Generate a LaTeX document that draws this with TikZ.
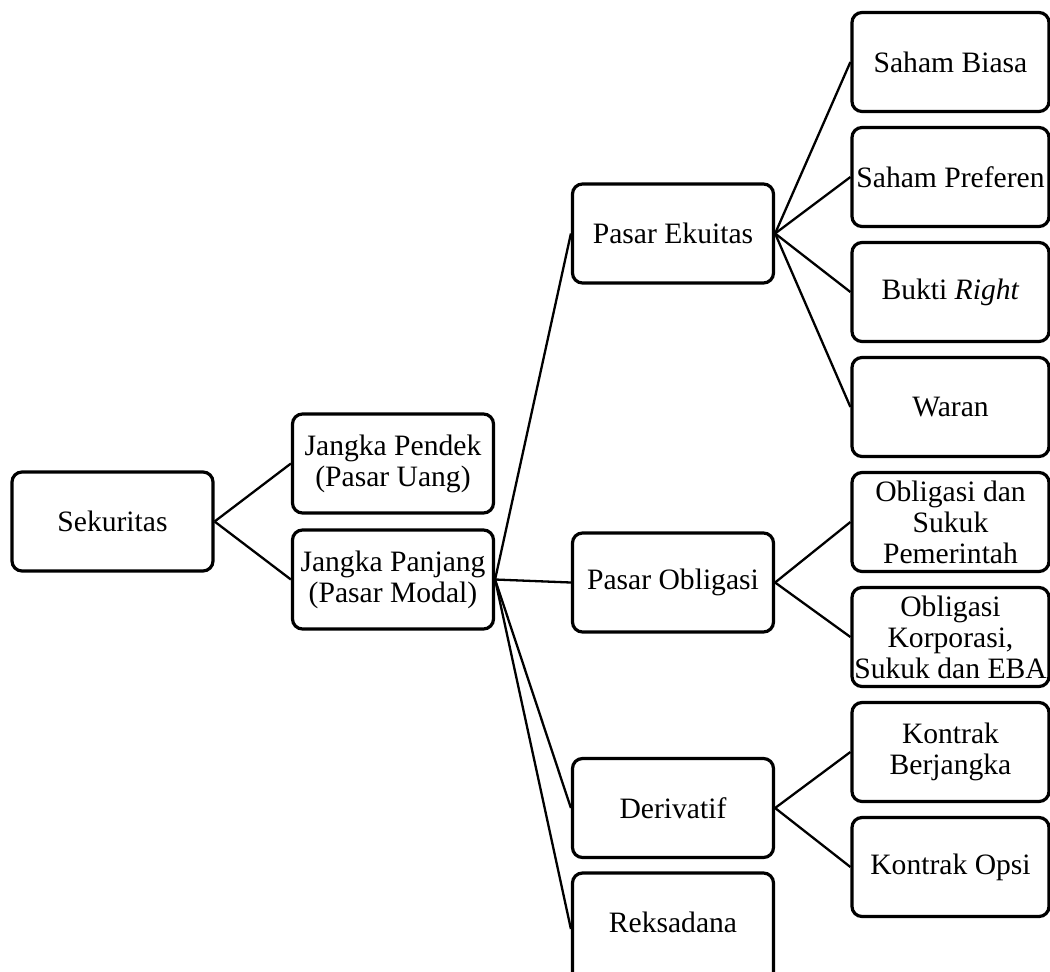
\documentclass[tikz,border=0pt]{standalone}
\usepackage{fontspec}
\setmainfont{Liberation Serif}
\usepackage{tikz}

\tikzset{
    kotak/.style={draw, line width=1.6pt, rounded corners=5pt, align=center,
        minimum width=100.5pt, minimum height=49.5pt, inner sep=1pt,
        font=\fontsize{14.8}{15.5}\selectfont},
    kotakkanan/.style={kotak, minimum width=98.5pt},
    garis/.style={line width=1.15pt},
}

\begin{document}
\begin{tikzpicture}[x=0.5pt, y=-0.5pt]
\useasboundingbox (0,0) rectangle (1050,971);
% kolom kiri
\node[kotak] (sek) at (112.5,521.5) {Sekuritas};
\node[kotak] (pendek) at (393,463.5) {Jangka Pendek\\(Pasar Uang)};
\node[kotak] (panjang) at (393,579.5) {Jangka Panjang\\(Pasar Modal)};
% kolom tengah
\node[kotak] (ekuitas) at (673,233.5) {Pasar Ekuitas};
\node[kotak] (obligasi) at (673,582.5) {Pasar Obligasi};
\node[kotak] (derivatif) at (673,808) {Derivatif};
\node[kotak, minimum height=56pt, text depth=7pt] (reksadana) at (673,929) {Reksadana};
% kolom kanan
\node[kotakkanan] (biasa) at (950.5,62) {Saham Biasa};
\node[kotakkanan] (preferen) at (950.5,177) {Saham Preferen};
\node[kotakkanan] (right) at (950.5,292) {Bukti \textit{Right}};
\node[kotakkanan] (waran) at (950.5,407) {Waran};
\node[kotakkanan] (pemerintah) at (950.5,522) {Obligasi dan\\Sukuk\\Pemerintah};
\node[kotakkanan] (korporasi) at (950.5,637) {Obligasi\\Korporasi,\\Sukuk dan EBA};
\node[kotakkanan] (berjangka) at (950.5,752) {Kontrak\\Berjangka};
\node[kotakkanan] (opsi) at (950.5,867) {Kontrak Opsi};

\foreach \a/\b in {sek/pendek, sek/panjang,
    panjang/ekuitas, panjang/obligasi, panjang/derivatif, panjang/reksadana,
    ekuitas/biasa, ekuitas/preferen, ekuitas/right, ekuitas/waran,
    obligasi/pemerintah, obligasi/korporasi,
    derivatif/berjangka, derivatif/opsi}
    \draw[garis] (\a.east) -- (\b.west);
\end{tikzpicture}
\end{document}
